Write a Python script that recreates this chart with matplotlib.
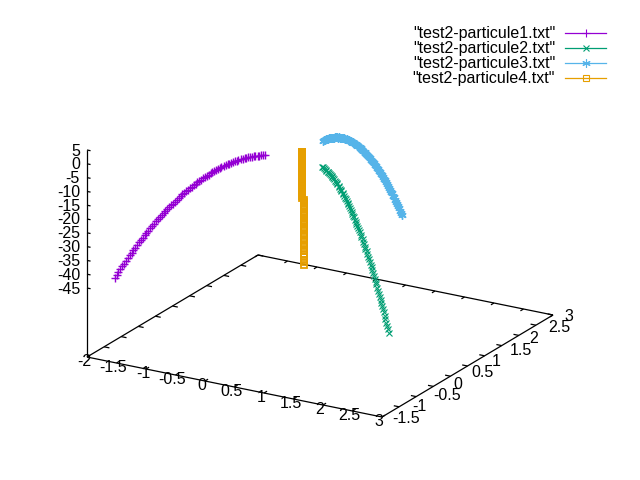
import matplotlib
matplotlib.use('Agg')
import matplotlib.pyplot as plt

plt.rcParams['font.family'] = ['Liberation Sans', 'DejaVu Sans']

# all four particles fall the same way
z_fall = [0, -0.01, -0.03, -0.06, -0.10, -0.16, -0.23, -0.31, -0.41, -0.52, -0.64, -0.78, -0.92, -1.08, -1.26,
          -1.44, -1.64, -1.85, -2.08, -2.31, -2.56, -2.83, -3.10, -3.39, -3.69, -4.00, -4.33, -4.67, -5.02,
          -5.39, -5.77, -6.16, -6.56, -6.98, -7.41, -7.85, -8.30, -8.77, -9.25, -9.74, -10.25, -10.77, -11.30,
          -11.85, -12.40, -12.97, -13.56, -14.15, -14.76, -15.38, -16.02, -16.66, -17.32, -18.00, -18.68,
          -19.38, -20.09, -20.81, -21.55, -22.30, -23.06, -23.84, -24.63, -25.43, -26.24, -27.07, -27.91,
          -28.76, -29.62, -30.50, -31.39, -32.29, -33.21, -34.14, -35.08, -36.03, -37.00, -37.98, -38.98,
          -39.98, -41.00]

x1 = [0.06, 0.04, 0.02, 0, -0.02, -0.05, -0.07, -0.09, -0.11, -0.13, -0.15, -0.17, -0.19, -0.21, -0.24, -0.26,
      -0.28, -0.30, -0.32, -0.34, -0.36, -0.38, -0.40, -0.43, -0.45, -0.47, -0.49, -0.51, -0.53, -0.55, -0.57,
      -0.59, -0.62, -0.64, -0.66, -0.68, -0.70, -0.72, -0.74, -0.76, -0.785, -0.81, -0.83, -0.85, -0.87, -0.89,
      -0.91, -0.93, -0.95, -0.97, -1.00, -1.02, -1.04, -1.06, -1.08, -1.10, -1.12, -1.14, -1.17, -1.19, -1.21,
      -1.23, -1.25, -1.27, -1.29, -1.31, -1.33, -1.36, -1.38, -1.40, -1.42, -1.44, -1.46, -1.48, -1.50, -1.52,
      -1.55, -1.57, -1.59, -1.61, -1.63]
y1 = [-0.35, -0.37, -0.39, -0.41, -0.42, -0.44, -0.46, -0.48, -0.50, -0.52, -0.54, -0.55, -0.57, -0.59, -0.61,
      -0.63, -0.65, -0.66, -0.68, -0.70, -0.72, -0.74, -0.76, -0.78, -0.79, -0.81, -0.83, -0.85, -0.87, -0.89,
      -0.91, -0.92, -0.94, -0.96, -0.98, -1.00, -1.02, -1.03, -1.05, -1.07, -1.09, -1.11, -1.13, -1.15, -1.16,
      -1.18, -1.20, -1.22, -1.24, -1.26, -1.28, -1.29, -1.31, -1.33, -1.35, -1.37, -1.39, -1.40, -1.42, -1.44,
      -1.46, -1.48, -1.50, -1.52, -1.53, -1.55, -1.57, -1.59, -1.61, -1.63, -1.65, -1.66, -1.68, -1.70, -1.72,
      -1.74, -1.76, -1.77, -1.79, -1.81, -1.83]

x2 = [1.04, 1.06, 1.09, 1.11, 1.14, 1.16, 1.19, 1.21, 1.24, 1.26, 1.29, 1.31, 1.33, 1.36, 1.38, 1.41, 1.43,
      1.46, 1.48, 1.51, 1.53, 1.55, 1.58, 1.60, 1.63, 1.65, 1.68, 1.70, 1.73, 1.75, 1.78, 1.80, 1.82, 1.85,
      1.87, 1.90, 1.92, 1.95, 1.97, 2.00, 2.02, 2.04, 2.07, 2.09, 2.12, 2.14, 2.17, 2.19, 2.22, 2.24, 2.27,
      2.29, 2.31, 2.34, 2.36, 2.39, 2.41, 2.44, 2.46, 2.49, 2.51, 2.53, 2.56, 2.58, 2.61, 2.63, 2.66, 2.68,
      2.71, 2.73, 2.76, 2.78, 2.80, 2.83, 2.85, 2.88, 2.90, 2.93, 2.95, 2.98, 3.00]
y2 = [-0.36, -0.38, -0.40, -0.41, -0.43, -0.45, -0.47, -0.49, -0.50, -0.52, -0.54, -0.56, -0.58, -0.59, -0.61,
      -0.63, -0.65, -0.67, -0.68, -0.70, -0.72, -0.74, -0.76, -0.77, -0.79, -0.81, -0.83, -0.85, -0.86, -0.88,
      -0.90, -0.92, -0.94, -0.95, -0.97, -0.99, -1.01, -1.03, -1.04, -1.06, -1.08, -1.10, -1.12, -1.13, -1.15,
      -1.17, -1.19, -1.21, -1.22, -1.24, -1.26, -1.28, -1.30, -1.31, -1.33, -1.35, -1.37, -1.39, -1.40, -1.42,
      -1.44, -1.46, -1.48, -1.49, -1.51, -1.53, -1.55, -1.57, -1.58, -1.60, -1.62, -1.64, -1.66, -1.67, -1.69,
      -1.71, -1.73, -1.75, -1.76, -1.78, -1.80]

x3 = [0.50, 0.50, 0.50, 0.50, 0.50, 0.51, 0.51, 0.51, 0.51, 0.51, 0.52, 0.52, 0.52, 0.52, 0.52, 0.53, 0.53,
      0.53, 0.53, 0.54, 0.54, 0.54, 0.54, 0.54, 0.55, 0.55, 0.55, 0.55, 0.56, 0.56, 0.56, 0.56, 0.56, 0.57,
      0.57, 0.57, 0.57, 0.58, 0.58, 0.58, 0.58, 0.58, 0.59, 0.59, 0.59, 0.59, 0.59, 0.60, 0.60, 0.60, 0.60,
      0.61, 0.61, 0.61, 0.61, 0.62, 0.62, 0.62, 0.62, 0.62, 0.63, 0.63, 0.63, 0.63, 0.64, 0.64, 0.64, 0.64,
      0.65, 0.65, 0.65, 0.65, 0.65, 0.66, 0.66, 0.66, 0.66, 0.66, 0.67, 0.67, 0.67]
y3 = [0.60, 0.62, 0.65, 0.67, 0.70, 0.72, 0.75, 0.77, 0.80, 0.82, 0.85, 0.87, 0.90, 0.92, 0.95, 0.97, 1.00,
      1.02, 1.05, 1.07, 1.10, 1.12, 1.15, 1.17, 1.20, 1.22, 1.25, 1.27, 1.30, 1.32, 1.35, 1.37, 1.40, 1.42,
      1.45, 1.47, 1.50, 1.52, 1.55, 1.57, 1.60, 1.62, 1.65, 1.67, 1.70, 1.72, 1.75, 1.77, 1.80, 1.82, 1.85,
      1.87, 1.90, 1.92, 1.95, 1.97, 2.00, 2.02, 2.05, 2.07, 2.10, 2.12, 2.15, 2.17, 2.20, 2.22, 2.25, 2.27,
      2.30, 2.32, 2.35, 2.37, 2.40, 2.42, 2.45, 2.47, 2.50, 2.52, 2.55, 2.57, 2.60]

x4 = [0.47] * 52 + [0.487] * 29
y4 = [0.04] * 81

names = ['"test2-particule1.txt"', '"test2-particule2.txt"', '"test2-particule3.txt"', '"test2-particule4.txt"']
colors = ['#9400D3', '#009E73', '#56B4E9', '#E69F00']

x_ticks = [-2, -1.5, -1, -0.5, 0, 0.5, 1, 1.5, 2, 2.5, 3]
y_ticks = [-1.5, -1, -0.5, 0, 0.5, 1, 1.5, 2, 2.5, 3]
z_ticks = [5, 0, -5, -10, -15, -20, -25, -30, -35, -40, -45]
y_label_dx = [-7, -4, 0, 3, 4, 7, 8, 10, 12, 11]

xmin, xmax = -2, 3
ymin, ymax = -2, 3
zbase = -70
ztop = 5
FS = 11.5


def project(x, y, z):
    # fixed view like gnuplot's splot 60,30, gives figure pixels
    a = (x - xmin) / (xmax - xmin)
    b = (y - ymin) / (ymax - ymin)
    px = 87 + 295 * a + 171 * b
    py = 357 + 60 * a - 102 * b - (z - zbase) * 2.76
    return px, py


def pline(ax, p, q):
    a = project(*p)
    b = project(*q)
    ax.plot([a[0], b[0]], [a[1], b[1]], color='black', lw=0.9, solid_capstyle='butt')


fig = plt.figure(figsize=(6.4, 4.8), dpi=100)
ax = fig.add_axes([0, 0, 1, 1])
ax.set_xlim(0, 640)
ax.set_ylim(480, 0)
ax.axis('off')

# base frame and z axis
pline(ax, (xmin, ymin, zbase), (xmax, ymin, zbase))
pline(ax, (xmax, ymin, zbase), (xmax, ymax, zbase))
pline(ax, (xmax, ymax, zbase), (xmin, ymax, zbase))
pline(ax, (xmin, ymax, zbase), (xmin, ymin, zbase))
pline(ax, (xmin, ymin, zbase), (xmin, ymin, ztop))

tick = 0.09
for t in x_ticks:
    pline(ax, (t, ymin, zbase), (t, ymin + tick, zbase))
    pline(ax, (t, ymax, zbase), (t, ymax - tick, zbase))
    px, py = project(t, ymin, zbase)
    ax.text(px - 3, py + 4, '%g' % t, ha='center', va='center', fontsize=FS)
for t, dx in zip(y_ticks, y_label_dx):
    pline(ax, (xmin, t, zbase), (xmin + tick, t, zbase))
    pline(ax, (xmax, t, zbase), (xmax - tick, t, zbase))
    px, py = project(xmax, t, zbase)
    ax.text(px + dx, py + 8 - 2.3 * t, '%g' % t, ha='left', va='center', fontsize=FS)
for t in z_ticks:
    pline(ax, (xmin, ymin, t), (xmin + 0.06, ymin, t))
    px, py = project(xmin, ymin, t)
    ax.text(px - 7, py + 1, '%g' % t, ha='right', va='center', fontsize=FS)


def scatter3(x, y, z, color, marker, size, width):
    pts = [project(a, b, c) for a, b, c in zip(x, y, z)]
    ax.plot([p[0] for p in pts], [p[1] for p in pts], ls='none', marker=marker, ms=size, mew=width,
            mec=color, mfc='none', antialiased=False)


scatter3(x1, y1, z_fall, colors[0], '+', 6, 1.0)
scatter3(x2, y2, z_fall, colors[1], 'x', 5, 0.8)
scatter3(x3, y3, z_fall, colors[2], (6, 2, 0), 6, 1.0)
scatter3(x4, y4, z_fall, colors[3], 's', 3.8, 1.3)

# legend by hand, gnuplot style
leg_markers = ['+', 'x', (6, 2, 0), 's']
leg_sizes = [6, 5, 6, 5]
for i in range(4):
    row = 32.7 + 15 * i
    ax.text(555, row + 1, names[i], ha='right', va='center', fontsize=FS)
    ax.plot([565, 606], [row, row], color=colors[i], lw=0.9)
    ax.plot([585.5], [row], ls='none', marker=leg_markers[i], ms=leg_sizes[i], mew=0.8, mec=colors[i], mfc='none')

fig.savefig('out.png', dpi=100)
